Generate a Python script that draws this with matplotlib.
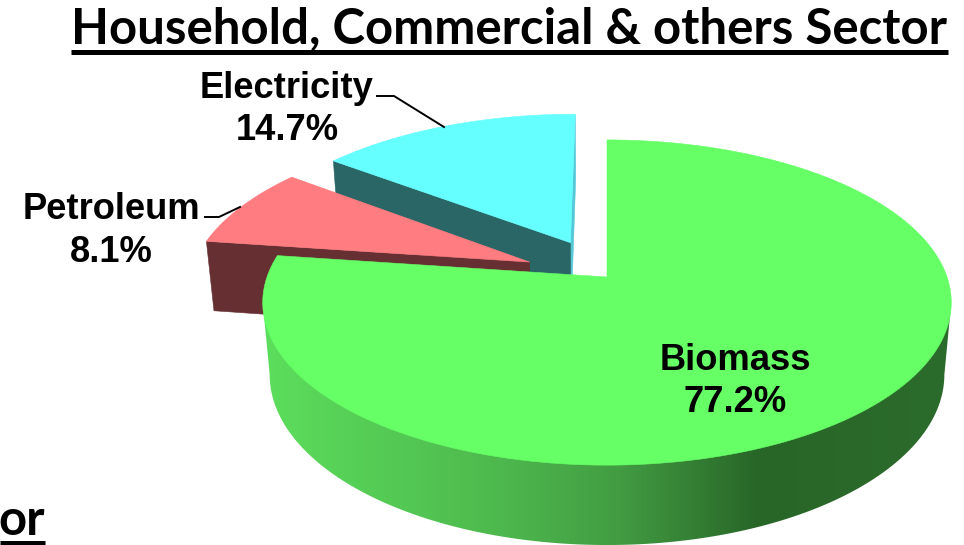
import numpy as np
import matplotlib
matplotlib.use("Agg")
import matplotlib.pyplot as plt
from matplotlib.patches import Polygon
from matplotlib.colors import LinearSegmentedColormap

# --- data ---
categories = ["Biomass", "Petroleum", "Electricity"]
shares = [77.2, 8.1, 14.7]
share_labels = ["77.2%", "8.1%", "14.7%"]
explode = [0.0, 0.25, 0.25]

# --- style ---
top_colors = ["#66FF66", "#FF7C80", "#66FFFF"]
cut_colors = ["#2A662A", "#663033", "#2A6666"]
title_text = "Household, Commercial & others Sector"

CX, CY = 607.0, 277.0
RX, RY = 340.0, 158.6
K, M, DEPTH = 0.157, 0.02, 72.7


def project(x, y, z):
    """Tilted-pie perspective: plane coords (radius 1) + z (0 top, 1 bottom)."""
    w = 1 + K * y + M * z
    return CX + RX * x / w, CY + (-RY * y + DEPTH * z) / w


fig = plt.figure(figsize=(9.64, 5.45), dpi=100)
ax = fig.add_axes([0, 0, 1, 1])
ax.set_xlim(0, 964)
ax.set_ylim(545, 0)
ax.axis("off")

edges = np.cumsum([0.0] + shares) / sum(shares) * 360.0
wall_cmap = LinearSegmentedColormap.from_list(
    "wall",
    [(0.0, "#5CDE5C"), (0.35, "#4DB84D"), (0.52, "#429C42"),
     (0.72, "#286628"), (1.0, "#2B6B2B")],
)


def wedge_geometry(i, n=240):
    t0, t1 = np.radians(edges[i]), np.radians(edges[i + 1])
    mid = (t0 + t1) / 2
    ox, oy = explode[i] * np.sin(mid), explode[i] * np.cos(mid)
    t = np.linspace(t0, t1, n)
    return ox, oy, t, ox + np.sin(t), oy + np.cos(t)


def draw_cut(ox, oy, px, py, color, z=2):
    a0 = project(ox, oy, 0)
    a1 = project(px, py, 0)
    a2 = project(px, py, 1)
    a3 = project(ox, oy, 1)
    ax.add_patch(Polygon([a0, a1, a2, a3], closed=True, fc=color, ec=color, lw=0.4, zorder=z))


def draw_top(i, ox, oy, xs, ys, z):
    X, Y = project(xs, ys, 0)
    ax0, ay0 = project(ox, oy, 0)
    pts = np.column_stack([np.r_[ax0, X], np.r_[ay0, Y]])
    ax.add_patch(Polygon(pts, closed=True, fc=top_colors[i], ec=top_colors[i], lw=0.4, zorder=z))


# Electricity (farthest)
ox, oy, t, xs, ys = wedge_geometry(2)
draw_cut(ox, oy, xs[-1], ys[-1], "#55C8D8", z=1)
draw_cut(ox, oy, xs[0], ys[0], cut_colors[2], z=2)
draw_top(2, ox, oy, xs, ys, 3)

# Petroleum
ox, oy, t, xs, ys = wedge_geometry(1)
draw_cut(ox, oy, xs[0], ys[0], cut_colors[1], z=4)
draw_top(1, ox, oy, xs, ys, 5)

# Biomass: outer wall with a smooth horizontal gradient, then the top face
ox, oy, t, xs, ys = wedge_geometry(0, n=720)
Xt, Yt = project(xs, ys, 0)
Xb, Yb = project(xs, ys, 1)
i_right = int(np.argmax(Xb))
i_left = int(np.argmin(Xb))
j_right = int(np.argmax(Xt))
j_left = int(np.argmin(Xt))
outline = np.vstack([
    [Xt[j_right], Yt[j_right]],
    np.column_stack([Xb[i_right:i_left + 1], Yb[i_right:i_left + 1]]),
    [Xt[j_left], Yt[j_left]],
])
wall = Polygon(outline, closed=True, fc="none", ec="none", zorder=6)
ax.add_patch(wall)
gradient = np.linspace(0, 1, 512).reshape(1, -1)
img = ax.imshow(gradient, cmap=wall_cmap, extent=(262, 950, 545, 250), aspect="auto",
                interpolation="bilinear", zorder=6)
img.set_clip_path(wall)
ax.set_xlim(0, 964)
ax.set_ylim(545, 0)
draw_top(0, ox, oy, xs, ys, 7)

# --- text ---
label_font = dict(family="Liberation Sans", fontweight="bold", fontsize=26.2,
                  ha="center", va="center", color="black", zorder=10)
ax.text(735, 360.5, categories[0], **label_font)
ax.text(735, 402.5, share_labels[0], **label_font)
ax.text(111, 209.5, categories[1], **label_font)
ax.text(111, 252.5, share_labels[1], **label_font)
ax.text(287, 88.5, categories[2], **label_font)
ax.text(287, 130.5, share_labels[2], **label_font)

# leader lines
ax.plot([377, 394, 444], [96, 96, 127], color="black", lw=1.4, zorder=9)
ax.plot([205, 219, 240], [217, 217, 207], color="black", lw=1.4, zorder=9)

# title and clipped neighbouring heading
ax.text(509, 44, title_text, family="Lato", fontweight="bold", fontsize=35.4,
        ha="center", va="baseline", color="black", zorder=10)
ax.plot([71, 948], [51.5, 51.5], color="black", lw=3.6, solid_capstyle="butt", zorder=10)
ax.text(45, 535, "or", family="Lato", fontweight="bold", fontsize=35.4,
        ha="right", va="baseline", color="black", zorder=10)
ax.plot([0, 45], [542.5, 542.5], color="black", lw=3.6, solid_capstyle="butt", zorder=10)

fig.savefig("out.png", dpi=100)
